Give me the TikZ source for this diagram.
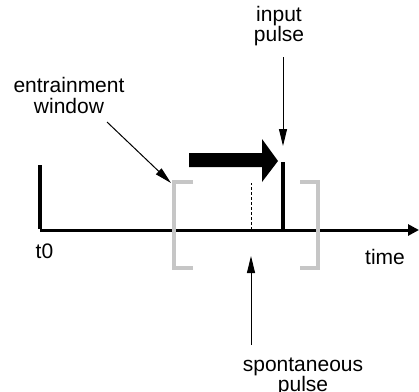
\documentclass[tikz,border=0pt]{standalone}
\usepackage{fontspec}
\setmainfont{Liberation Sans}
\usetikzlibrary{arrows.meta}
\definecolor{bracketgray}{RGB}{198,198,198}
\tikzset{
  lbl/.style={font=\fontsize{21}{20.5}\selectfont, inner sep=0pt, align=center, anchor=base},
  thinarrow/.style={line width=1pt, -{Triangle[length=17pt,width=8pt]}},
  pulseline/.style={line width=3.5pt},
  window/.style={draw=bracketgray, line width=3.5pt},
}
\begin{document}
\begin{tikzpicture}[x=1pt,y=-1pt]
\useasboundingbox (0,0) rectangle (419,391);
% coordinates
\coordinate (origin) at (40,230);
\coordinate (t0top) at (40,165);
\coordinate (axisend) at (419,230);
\coordinate (inbase) at (283,230);
\coordinate (intop) at (283,162);
\coordinate (spbase) at (251,230);
\coordinate (sptop) at (251,183);
% axis
\draw[line width=3pt, -{Triangle[length=11pt,width=11pt]}] (origin) -- (axisend);
\draw[line width=4pt] (t0top) -- ([yshift=1.5pt]origin -| t0top);
% spontaneous (dotted)
\draw[line width=1pt, dash pattern=on 3pt off 2pt] (spbase) -- (sptop);
% input pulse
\draw[pulseline] (inbase) -- (intop);
% window brackets
\draw[window] (193,182) -- (174,182) -- (174,268) -- (193,268);
\draw[window] (300,182) -- (318,182) -- (318,268) -- (300,268);
% big arrow
\fill (189,153) -- (262,153) -- (262,139) -- (278,161) -- (262,182) -- (262,167) -- (189,167) -- cycle;
% labels (anchor=base is the baseline of the last line)
\node[lbl] (inputlbl) at (279,41.5) {input\\pulse};
\node[lbl] (entlbl) at (69,113) {entrainment\\window};
\node[lbl] (spolbl) at (303,391.5) {spontaneous\\pulse};
\node[lbl, anchor=base west] (t0lbl) at (35.5,258.5) {t0};
\node[lbl, anchor=base west] (timelbl) at (365,264.5) {time};
% label arrows
\coordinate (inA) at (283,57);
\coordinate (inB) at (283,146);
\coordinate (entA) at (107,122);
\coordinate (entB) at (171,183);
\coordinate (spA) at (251,345);
\coordinate (spB) at (251,256);
\draw[thinarrow] (inA) -- (inB);
\draw[thinarrow] (entA) -- (entB);
\draw[thinarrow] (spA) -- (spB);
\end{tikzpicture}
\end{document}
